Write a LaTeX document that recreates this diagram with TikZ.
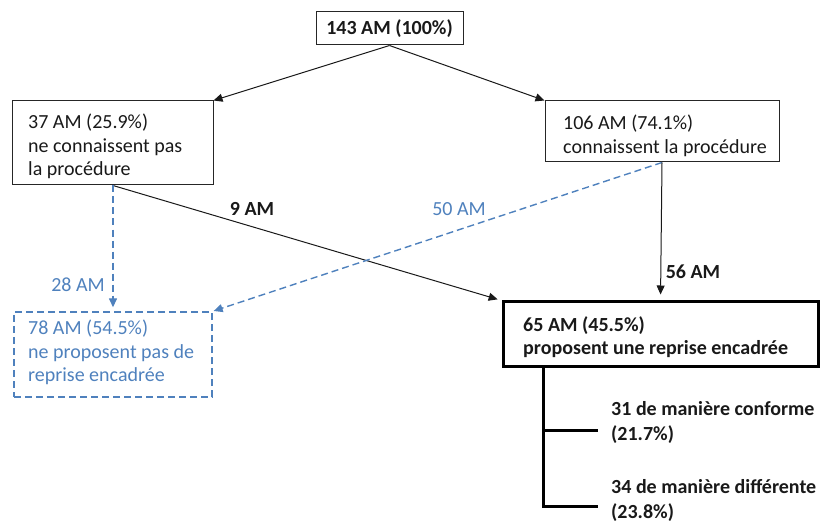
\documentclass[tikz,border=0pt]{standalone}
\usepackage{fontspec}
\setmainfont{Carlito}
\usetikzlibrary{arrows.meta}
\definecolor{ablue}{RGB}{79,129,189}
\newcommand\myfs{\fontsize{20bp}{23.5bp}\selectfont}
\begin{document}
\begin{tikzpicture}[x=1bp,y=-1bp,
  every node/.style={font=\myfs, text=black!90},
  boxn/.style={draw=black!85, line width=1bp, inner sep=0pt},
  dbox/.style={draw=ablue, line width=1.4bp, dash pattern=on 7bp off 4bp, inner sep=0pt},
  txt/.style={inner sep=0pt, align=left, anchor=north west},
  arr/.style={-{Triangle[length=9bp,width=8bp]}, line width=1bp, black!90},
  darr/.style={-{Triangle[length=9bp,width=8bp]}, ablue, line width=1.4bp, dash pattern=on 7bp off 4bp},
  bold/.style={font=\myfs\bfseries}]
\useasboundingbox (0,0) rectangle (824,522);

\node[boxn, bold, minimum width=147bp, minimum height=33bp] (T) at (389.5,28.5) {143 AM (100\%)};

\node[boxn, minimum width=200bp, minimum height=84bp] (L) at (113,143) {};
\node[txt] (Lt) at (28,114) {37 AM (25.9\%)\\ne connaissent pas\\la procédure};

\node[boxn, minimum width=234bp, minimum height=61bp] (R) at (662,131.5) {};
\node[txt] (Rt) at (563,115) {106 AM (74.1\%)\\connaissent la procédure};

\node[dbox, minimum width=198bp, minimum height=85bp] (D) at (113,354.5) {};
\node[txt, text=ablue] (Dt) at (28,320) {78 AM (54.5\%)\\ne proposent pas de\\reprise encadrée};

\node[boxn, draw=black, line width=3bp, minimum width=315bp, minimum height=64bp] (B) at (660.5,334) {};
\node[txt, bold] (Bt) at (523,316) {65 AM (45.5\%)\\proposent une reprise encadrée};

\draw[arr] (T.south) -- (L.north east);
\draw[arr] (T.south) -- (R.north west);
\draw[arr, shorten >=4bp] (L.south) -- (B.north west);
\draw[darr, shorten >=4bp] (L.south) -- (D.north);
\draw[darr, shorten >=1bp] (R.south) -- (D.north east);
\draw[arr, shorten >=6bp] (R.south) -- (B.north);

\node[bold] (l9) at (252,209) {9 AM};
\node[text=ablue] (l50) at (459,209) {50 AM};
\node[text=ablue] (l28) at (78,285) {28 AM};
\node[bold] (l56) at (693,272) {56 AM};

\coordinate (b0) at ([xshift=42bp]B.south west);
\coordinate (bm) at (545,430);
\coordinate (b1) at (598,430);
\coordinate (b2) at (598,506);
\draw[line width=3bp] (b0) |- (b2);
\draw[line width=3bp] (bm) -- (b1);

\node[txt, bold, font=\fontsize{20bp}{25bp}\selectfont\bfseries] (c1) at (611,401) {31 de manière conforme\\(21.7\%)};
\node[txt, bold, font=\fontsize{20bp}{25bp}\selectfont\bfseries] (c2) at (611,479) {34 de manière différente\\(23.8\%)};
\end{tikzpicture}
\end{document}
